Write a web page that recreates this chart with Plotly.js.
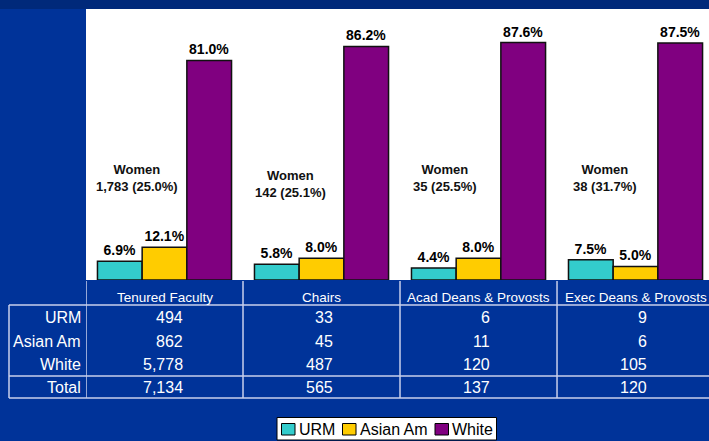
<!DOCTYPE html>
<html>
<head>
<meta charset="utf-8">
<script src="https://cdn.plot.ly/plotly-3.0.1.min.js"></script>
<style>html,body{margin:0;padding:0;background:#003399;}#chart{width:709px;height:441px;}</style>
</head>
<body>
<div id="chart"></div>
<script>
// ---- data ----
var categories = ["Tenured Faculty", "Chairs", "Acad Deans & Provosts", "Exec Deans & Provosts"];
var seriesNames = ["URM", "Asian Am", "White"];
var urmPct = [6.9, 5.8, 4.4, 7.5];
var asianPct = [12.1, 8.0, 8.0, 5.0];
var whitePct = [81.0, 86.2, 87.6, 87.5];
var womenCount = ["1,783", "142", "35", "38"];
var womenPct = ["25.0%", "25.1%", "25.5%", "31.7%"];
var rowLabels = ["URM", "Asian Am", "White", "Total"];
var urmCount = ["494", "33", "6", "9"];
var asianCount = ["862", "45", "11", "6"];
var whiteCount = ["5,778", "487", "120", "105"];
var totalCount = ["7,134", "565", "137", "120"];

// ---- layout helpers (pixel -> paper) ----
var L = 86, T = 9, PW = 623, PH = 271;
function py(y) { return (T + PH - y) / PH; }
function pxp(x) { return (x - L) / PW; }

var font = "Liberation Sans, Arial, sans-serif";
var xs = [0, 1, 2, 3];
var colors = ["#33CCCC", "#FFCC00", "#800080"];

function barTrace(name, vals, color) {
  return {
    type: "bar", name: name, x: xs, y: vals,
    marker: {color: color, line: {color: "#111111", width: 1.5}},
    texttemplate: "%{y:.1f}%", textposition: "outside",
    textfont: {family: font, size: 14, color: "#000000", weight: "bold"},
    cliponaxis: false, hoverinfo: "skip", showlegend: false
  };
}
var data = [
  barTrace(seriesNames[0], urmPct, colors[0]),
  barTrace(seriesNames[1], asianPct, colors[1]),
  barTrace(seriesNames[2], whitePct, colors[2])
];

var annotations = [];
var shapes = [];
var lineColor = "#c8d0ec";

// Women annotations
var womenY = [37.6, 35.3, 37.6, 37.6];
var womenShift = [-28, -31, -34, -31];
for (var i = 0; i < categories.length; i++) {
  annotations.push({
    x: xs[i], y: womenY[i], xref: "x", yref: "y", xshift: womenShift[i],
    text: "Women<br>" + womenCount[i] + " (" + womenPct[i] + ")",
    showarrow: false, align: "center",
    font: {family: font, size: 13, color: "#111111", weight: "bold"}
  });
}

// Table: header
for (var i = 0; i < categories.length; i++) {
  annotations.push({
    x: xs[i], y: py(297), xref: "x", yref: "paper", text: categories[i],
    showarrow: false, xanchor: "center", yanchor: "middle",
    font: {family: font, size: 13.5, color: "#ffffff"}
  });
}
var rowsY = [318, 341, 364, 387];
var rows = [urmCount, asianCount, whiteCount, totalCount];
var colOffset = [20, 13, 13, 13];
for (var r = 0; r < rows.length; r++) {
  annotations.push({
    x: -0.5, y: py(rowsY[r]), xref: "x", yref: "paper", xshift: -3,
    text: rowLabels[r], showarrow: false, xanchor: "right", yanchor: "middle",
    font: {family: font, size: 16, color: "#ffffff"}
  });
  for (var c = 0; c < categories.length; c++) {
    annotations.push({
      x: xs[c], y: py(rowsY[r]), xref: "x", yref: "paper", xshift: colOffset[c],
      text: rows[r][c], showarrow: false, xanchor: "right", yanchor: "middle",
      font: {family: font, size: 16, color: "#ffffff"}
    });
  }
}

// top dark band
shapes.push({type: "rect", xref: "paper", yref: "paper", x0: pxp(-5), x1: pxp(715), y0: py(9), y1: py(-5),
  fillcolor: "#00297a", line: {width: 0}, layer: "below"});
// table lines
[305, 376, 398].forEach(function (y) {
  shapes.push({type: "line", xref: "paper", yref: "paper", x0: pxp(9), x1: pxp(712), y0: py(y), y1: py(y),
    line: {color: lineColor, width: 1.5}});
});
shapes.push({type: "line", xref: "paper", yref: "paper", x0: pxp(9), x1: pxp(9), y0: py(305), y1: py(398),
  line: {color: lineColor, width: 1.5}});
[-0.5, 0.5, 1.5, 2.5].forEach(function (x) {
  shapes.push({type: "line", xref: "x", yref: "paper", x0: x, x1: x, y0: py(281), y1: py(398),
    line: {color: lineColor, width: 1.5}});
});

// legend box (drawn)
shapes.push({type: "rect", xref: "paper", yref: "paper", x0: pxp(277), x1: pxp(496.5), y0: py(440), y1: py(417.5),
  fillcolor: "#ffffff", line: {color: "#000000", width: 1}});
var legSym = [281, 342, 434.5];
for (var k = 0; k < seriesNames.length; k++) {
  shapes.push({type: "rect", xref: "paper", yref: "paper", x0: pxp(legSym[k] + 0.5), x1: pxp(legSym[k] + 14),
    y0: py(435), y1: py(423.5), fillcolor: colors[k], line: {color: "#000000", width: 1}});
  annotations.push({x: pxp(legSym[k] + 15.5), y: py(429.5), xref: "paper", yref: "paper",
    text: seriesNames[k], showarrow: false, xanchor: "left", yanchor: "middle",
    font: {family: font, size: 16, color: "#000000"}});
}

var layout = {
  width: 709, height: 441,
  margin: {l: L, r: 0, t: T, b: 441 - T - PH, pad: 0, autoexpand: false},
  paper_bgcolor: "#003399", plot_bgcolor: "#ffffff",
  barmode: "group", bargap: 0.146, bargroupgap: 0,
  xaxis: {range: [-0.5, 3.468], showticklabels: false, showgrid: false, zeroline: false,
    showline: false, ticks: "", fixedrange: true},
  yaxis: {range: [0, 100], showticklabels: false, showgrid: false, zeroline: false,
    showline: false, ticks: "", fixedrange: true},
  showlegend: false,
  annotations: annotations,
  shapes: shapes,
  font: {family: font}
};

Plotly.newPlot("chart", data, layout, {displayModeBar: false, staticPlot: true});
</script>
</body>
</html>
